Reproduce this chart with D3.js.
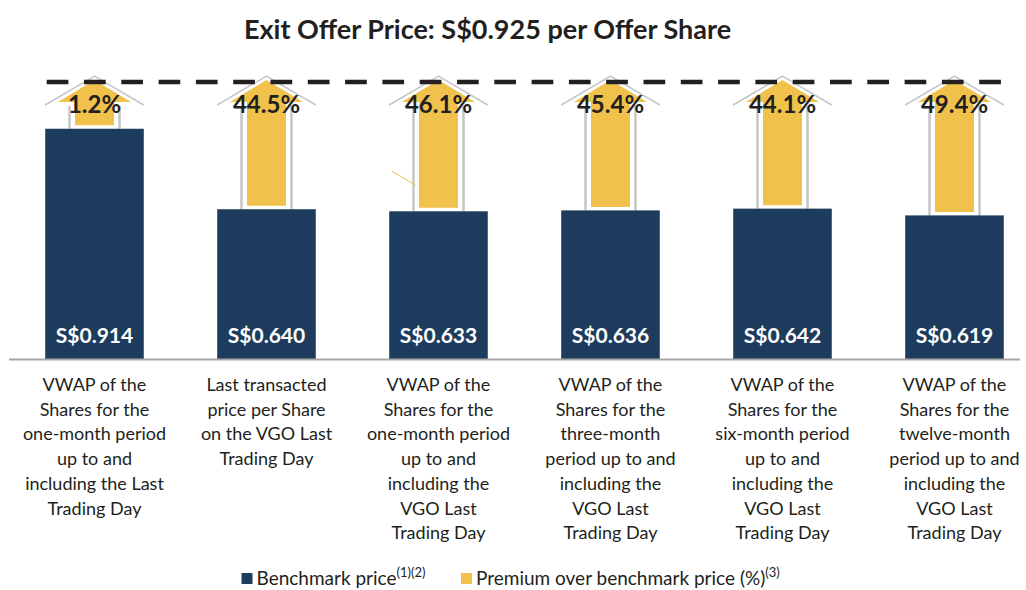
<!DOCTYPE html>
<html lang="en">
<head>
  <meta charset="UTF-8">
  <title>Exit Offer Price</title>
  <style>
    body { margin: 0; background: #fff; }
    svg { display: block; font-family: Lato, "Open Sans", sans-serif; }
    .title { font-size: 27px; font-weight: bold; fill: #231f20; }
    .pct { font-size: 24px; font-weight: bold; fill: #231f20; }
    .price { font-size: 21px; font-weight: bold; fill: #fff; }
    .cat { font-size: 18px; fill: #231f20; }
    .legend { font-size: 19px; fill: #231f20; }
  </style>
</head>
<body>
<svg width="1026" height="590"></svg>

<script src="https://d3js.org/d3.v7.min.js"></script>
<script>
  // chart data
  const categories = [
    ["VWAP of the", "Shares for the", "one-month period", "up to and", "including the Last", "Trading Day"],
    ["Last transacted", "price per Share", "on the VGO Last", "Trading Day"],
    ["VWAP of the", "Shares for the", "one-month period", "up to and", "including the", "VGO Last", "Trading Day"],
    ["VWAP of the", "Shares for the", "three-month", "period up to and", "including the", "VGO Last", "Trading Day"],
    ["VWAP of the", "Shares for the", "six-month period", "up to and", "including the", "VGO Last", "Trading Day"],
    ["VWAP of the", "Shares for the", "twelve-month", "period up to and", "including the", "VGO Last", "Trading Day"]
  ];
  const prices = [0.914, 0.640, 0.633, 0.636, 0.642, 0.619];
  const premiums = [1.2, 44.5, 46.1, 45.4, 44.1, 49.4];
  const offerPrice = 0.925;

  const navy = "#1d3c5d";
  const yellow = "#f0c24b";
  const outline = "#c6c6c6";

  const svg = d3.select("svg");
  const idx = d3.range(prices.length);

  const x = d3.scaleBand()
    .domain(idx)
    .range([8.5, 1040.5])
    .paddingInner(0.427)
    .paddingOuter(0.2135);

  const y = d3.scaleLinear()
    .domain([0.13, 0.92])
    .range([359, 127]);

  const bw = x.bandwidth();
  const cx = i => x(i) + bw / 2;

  // title
  svg.append("text").attr("class", "title")
    .attr("x", 487.5).attr("y", 39)
    .attr("text-anchor", "middle")
    .text(`Exit Offer Price: S$${offerPrice.toFixed(3)} per Offer Share`);

  // arrows
  const headTop = 76, headBase = 105;
  const arrows = svg.append("g");
  idx.forEach(i => {
    const c = cx(i);
    const top = y(prices[i]);
    const g = arrows.append("g");
    // white body with grey outline edges
    g.append("path")
      .attr("d", `M${c - 25},${top} L${c - 25},${headBase} L${c - bw / 2},${headBase} L${c},${headTop} L${c + bw / 2},${headBase} L${c + 25},${headBase} L${c + 25},${top} Z`)
      .attr("fill", "#fff");
    g.append("path")
      .attr("d", `M${c - bw / 2},${headBase} L${c},${headTop} L${c + bw / 2},${headBase}`)
      .attr("fill", "none").attr("stroke", outline).attr("stroke-width", 1.5);
    g.append("path")
      .attr("d", `M${c - 25},${headBase + 1} L${c - 25},${top} M${c + 25},${headBase + 1} L${c + 25},${top}`)
      .attr("fill", "none").attr("stroke", outline).attr("stroke-width", 2.5);
    // yellow arrow
    g.append("path")
      .attr("d", `M${c - 19.5},${top - 3.5} L${c - 19.5},${headBase - 3} L${c - 36.5},${headBase - 3} L${c},${headTop + 4} L${c + 36.5},${headBase - 3} L${c + 19.5},${headBase - 3} L${c + 19.5},${top - 3.5} Z`)
      .attr("fill", yellow);
  });

  // stray leader line near third arrow
  svg.append("line")
    .attr("x1", cx(2) - 47).attr("y1", 171)
    .attr("x2", cx(2) - 23).attr("y2", 185)
    .attr("stroke", yellow).attr("stroke-width", 1);

  // bars
  svg.append("g").selectAll("rect")
    .data(prices)
    .join("rect")
    .attr("x", (d, i) => x(i))
    .attr("y", d => y(d))
    .attr("width", bw)
    .attr("height", d => y.range()[0] - y(d))
    .attr("fill", navy);

  svg.append("g").selectAll("text")
    .data(prices)
    .join("text")
    .attr("class", "price")
    .attr("x", (d, i) => cx(i))
    .attr("y", 343)
    .attr("text-anchor", "middle")
    .text(d => `S$${d.toFixed(3)}`);

  // baseline
  svg.append("line")
    .attr("x1", 9).attr("x2", 1020)
    .attr("y1", 359.5).attr("y2", 359.5)
    .attr("stroke", "#a6a6a6").attr("stroke-width", 2);

  // offer price reference line
  svg.append("line")
    .attr("x1", 46.7).attr("x2", 1002)
    .attr("y1", 82).attr("y2", 82)
    .attr("stroke", "#231f20").attr("stroke-width", 4.5)
    .attr("stroke-dasharray", "21.7 15.6");

  // premium labels
  svg.append("g").selectAll("text")
    .data(premiums)
    .join("text")
    .attr("class", "pct")
    .attr("x", (d, i) => cx(i))
    .attr("y", 113)
    .attr("text-anchor", "middle")
    .text(d => `${d.toFixed(1)}%`);

  // category labels
  const cat = svg.append("g").selectAll("text")
    .data(categories)
    .join("text")
    .attr("class", "cat")
    .attr("text-anchor", "middle")
    .attr("x", (d, i) => cx(i))
    .attr("y", 391);
  cat.selectAll("tspan")
    .data((d, i) => d.map(t => ({ t, i })))
    .join("tspan")
    .attr("x", d => cx(d.i))
    .attr("dy", (d, j) => j === 0 ? 0 : 24.7)
    .text(d => d.t);

  // legend
  const legend = svg.append("g").attr("class", "legend");
  legend.append("rect").attr("x", 241.5).attr("y", 573).attr("width", 11).attr("height", 11).attr("fill", navy);
  const l1 = legend.append("text").attr("x", 256.5).attr("y", 585);
  l1.append("tspan").text("Benchmark price");
  l1.append("tspan").attr("font-size", 13).attr("dy", -8).text("(1)(2)");
  legend.append("rect").attr("x", 461).attr("y", 573).attr("width", 11).attr("height", 11).attr("fill", yellow);
  const l2 = legend.append("text").attr("x", 476).attr("y", 585);
  l2.append("tspan").text("Premium over benchmark price (%)");
  l2.append("tspan").attr("font-size", 13).attr("dy", -8).text("(3)");
</script>
</body>
</html>
